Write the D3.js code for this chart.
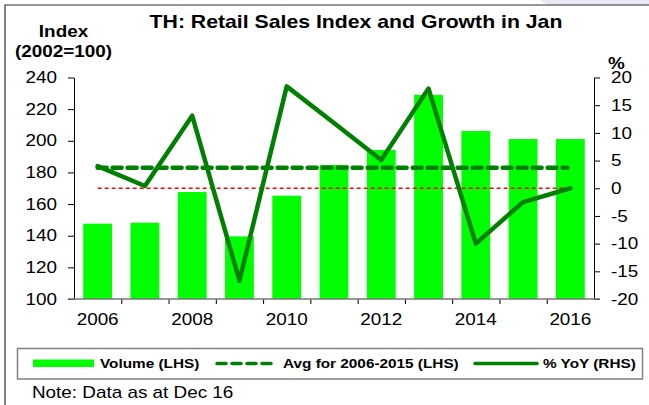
<!DOCTYPE html>
<meta charset="utf-8">
<style>
html, body { margin: 0; background: #fff; }
svg { display: block; font-family: "Liberation Sans", Arial, sans-serif; }
</style>
<body>
<svg id="chart" width="649" height="405"></svg>
</body>
<script src="https://cdn.jsdelivr.net/npm/d3@7"></script>
<script>

// data
var years = ["2006","2007","2008","2009","2010","2011","2012","2013","2014","2015","2016"]
var volume = [147.6, 148.2, 167.6, 139.6, 165.3, 184.7, 194.2, 229.0, 206.2, 201.1, 201.1]
var yoy = [4.0, 0.4, 13.1, -16.7, 18.4, 11.8, 5.1, 18.0, -10.0, -2.5, 0.0]
var avgVolume = 183
var xLabels = ["2006","2008","2010","2012","2014","2016"]
var leftTicks = [100, 120, 140, 160, 180, 200, 220, 240]
var rightTicks = [-20, -15, -10, -5, 0, 5, 10, 15, 20]

var SX = 1.18  // source picture is stretched sideways a bit

var svg = d3.select("#chart")
var plotLeft = 74, plotRight = 594, plotTop = 77.5, plotBottom = 299

var x = d3.scaleBand().domain(years).range([plotLeft, plotRight]).paddingInner(0.39).paddingOuter(0.195)
var xEdge = d3.scaleLinear().domain([0, years.length]).range([plotLeft, plotRight])
var yL = d3.scaleLinear().domain([100, 240]).range([plotBottom, plotTop])
var yR = d3.scaleLinear().domain([-20, 20]).range([plotBottom, plotTop])
var cx = function(d) { return x(d) + x.bandwidth() / 2 }

function label(x0, y0, str, size, weight, anchor) {
  return svg.append("text")
    .attr("transform", "translate(" + x0 + "," + y0 + ") scale(" + SX + ",1)")
    .attr("text-anchor", anchor || "start")
    .style("font-size", size + "px")
    .style("font-weight", weight || "normal")
    .attr("fill", "#000")
    .text(str)
}

// frame bits
svg.append("path").attr("d", "M540,0 L649,0 L649,5 L548,5 Z").attr("fill", "#e6e8f4")
svg.append("path").attr("d", "M5,405 L5,5 L649,5").attr("fill", "none").attr("stroke", "#333").attr("stroke-width", 1.2)

// title and axis titles
label(356, 28, "TH: Retail Sales Index and Growth in Jan", 18, "bold", "middle")
label(63.5, 37, "Index", 16, "bold", "middle")
label(63.5, 57, "(2002=100)", 16, "bold", "middle")
label(616.5, 69, "%", 16, "bold", "middle")

// bars
svg.append("g").selectAll("rect")
  .data(volume)
  .enter().append("rect")
    .attr("x", function(d, i) { return x(years[i]) })
    .attr("width", x.bandwidth())
    .attr("y", function(d) { return yL(d) })
    .attr("height", function(d) { return yL(100) - yL(d) })
    .attr("fill", "#00ff00")

// zero line on the rhs
svg.append("line")
  .attr("x1", cx(years[0])).attr("x2", cx(years[years.length - 1]))
  .attr("y1", yR(0)).attr("y2", yR(0))
  .attr("stroke", "#ff0000").attr("stroke-width", 1.6)
  .attr("stroke-dasharray", "4,3")

// average line
svg.append("line")
  .attr("x1", cx(years[0])).attr("x2", cx(years[years.length - 1]) - 3)
  .attr("y1", yL(avgVolume)).attr("y2", yL(avgVolume))
  .attr("stroke", "#008000").attr("stroke-width", 4.5)
  .attr("stroke-dasharray", "9,6").attr("stroke-linecap", "round")

// yoy line
var line = d3.line()
  .x(function(d, i) { return cx(years[i]) })
  .y(function(d) { return yR(d) })
svg.append("path")
  .datum(yoy)
  .attr("d", line)
  .attr("fill", "none")
  .attr("stroke", "#008000").attr("stroke-width", 4.5)
  .attr("stroke-linejoin", "round").attr("stroke-linecap", "round")

// axes
function stretchTicks(g, dx) {
  g.selectAll("text").each(function() {
    var t = d3.select(this)
    t.attr("transform", "translate(" + dx + ",0) scale(" + SX + ",1)").attr("x", 0)
  })
}

var gL = svg.append("g").attr("transform", "translate(" + plotLeft + ",0)")
  .call(d3.axisLeft(yL).tickValues(leftTicks).tickSize(6).tickSizeOuter(0).tickPadding(10))
gL.selectAll("text").style("font-size", "16px").attr("fill", "#000")
stretchTicks(gL, -17)

var gR = svg.append("g").attr("transform", "translate(" + plotRight + ",0)")
  .call(d3.axisRight(yR).tickValues(rightTicks).tickSize(6).tickSizeOuter(0)
    .tickFormat(function(d) { return String(d) }))
gR.selectAll("text").style("font-size", "16px").attr("fill", "#000")
stretchTicks(gR, 17)

var gB = svg.append("g").attr("transform", "translate(0," + plotBottom + ")")
  .call(d3.axisBottom(xEdge).tickValues(d3.range(1, years.length)).tickSize(5).tickSizeOuter(0).tickFormat(""))
gB.select(".domain").remove()

var gX = svg.append("g").attr("transform", "translate(0," + plotBottom + ")")
  .call(d3.axisBottom(x).tickValues(xLabels).tickSize(0).tickPadding(15))
gX.select(".domain").remove()
gX.selectAll("text").style("font-size", "16px").attr("fill", "#000")
stretchTicks(gX, 0)

svg.selectAll(".tick line").attr("stroke", "#000")
svg.append("line").attr("x1", 68).attr("x2", 600).attr("y1", plotBottom).attr("y2", plotBottom)
  .attr("stroke", "#777").attr("stroke-width", 1.5)

// legend
svg.append("rect").attr("x", 17.5).attr("y", 348.5).attr("width", 625).attr("height", 30.5)
  .attr("fill", "#fff").attr("stroke", "#808080").attr("stroke-width", 1.5)
svg.append("rect").attr("x", 33).attr("y", 359.5).attr("width", 61).attr("height", 7.5).attr("fill", "#00ff00")
label(100, 368, "Volume (LHS)", 13, "bold")
svg.append("line").attr("x1", 217).attr("x2", 277).attr("y1", 363.5).attr("y2", 363.5)
  .attr("stroke", "#008000").attr("stroke-width", 3.5).attr("stroke-dasharray", "9,6").attr("stroke-linecap", "round")
label(283, 368, "Avg for 2006-2015 (LHS)", 13, "bold")
svg.append("line").attr("x1", 475).attr("x2", 537).attr("y1", 363.5).attr("y2", 363.5)
  .attr("stroke", "#008000").attr("stroke-width", 3.5).attr("stroke-linecap", "round")
label(543, 368, "% YoY (RHS)", 13, "bold")

label(32, 398, "Note: Data as at Dec 16", 16)

</script>
